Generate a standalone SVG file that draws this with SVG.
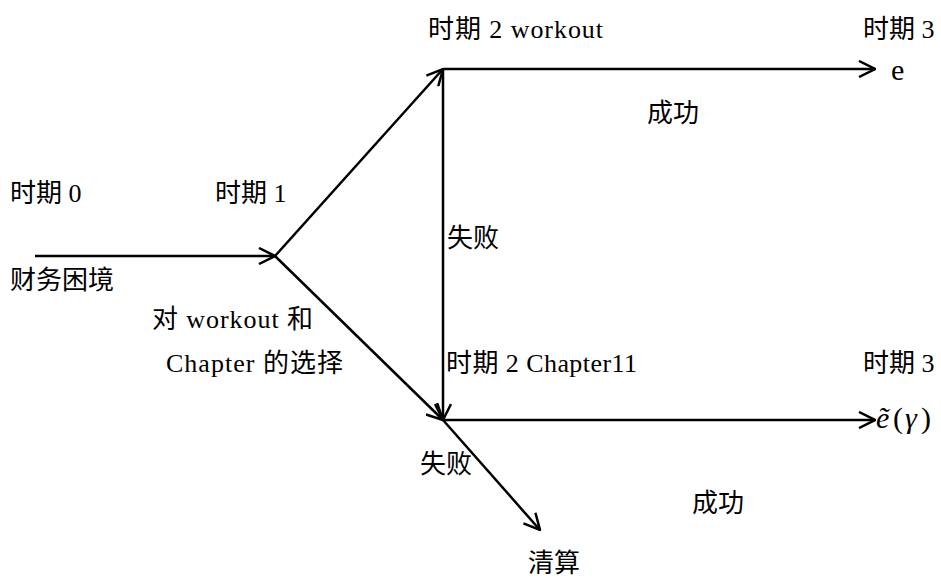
<svg xmlns="http://www.w3.org/2000/svg" width="941" height="580" viewBox="0 0 941 580">
<style>
text{font-family:"Liberation Serif","Noto Sans CJK SC",serif;font-size:26px;fill:#000}
.c line{stroke:#000;stroke-width:2.5;fill:none;marker-end:url(#a)}
.m{font-style:italic;font-size:30px}
.p{font-size:30px}
</style>
<defs>
<marker id="a" viewBox="0 0 18 18" refX="17" refY="9" markerWidth="18" markerHeight="18" markerUnits="userSpaceOnUse" orient="auto">
<path d="M1,1 L17,9 L1,17" fill="none" stroke="#000" stroke-width="2.5"/>
</marker>
</defs>
<rect width="941" height="580" fill="#fff"/>
<g class="c" id="connectors">
<line x1="35" y1="256" x2="275" y2="256"/>
<line x1="275" y1="256" x2="443" y2="69"/>
<line x1="275" y1="256" x2="443" y2="420"/>
<line x1="443" y1="69" x2="875" y2="69"/>
<line x1="443" y1="69" x2="443" y2="420"/>
<line x1="443" y1="420" x2="875" y2="420"/>
<line x1="443" y1="420" x2="540" y2="530"/>
</g>
<g id="t0"><text x="10" y="202">时期 0</text><text x="10" y="289">财务困境</text></g>
<g id="t1"><text x="215" y="202">时期 1</text><text x="152" y="328" textLength="161" lengthAdjust="spacing">对 workout 和</text><text x="166" y="372" textLength="177" lengthAdjust="spacing">Chapter 的选择</text></g>
<g id="t2w"><text x="428" y="38" textLength="175" lengthAdjust="spacing">时期 2 workout</text></g>
<g id="t3a"><text x="863" y="38">时期 3</text><text x="891" y="80" class="p">e</text></g>
<g id="s1"><text x="647" y="122">成功</text></g>
<g id="f1"><text x="447" y="247">失败</text></g>
<g id="t2c"><text x="446" y="372" textLength="191" lengthAdjust="spacing">时期 2 Chapter11</text></g>
<g id="t3b"><text x="863" y="372">时期 3</text>
<text x="876" y="428" class="m">ẽ</text><text x="893" y="428" class="p">(</text><text x="905" y="428" class="m">γ</text><text x="921" y="428" class="p">)</text></g>
<g id="f2"><text x="420" y="473">失败</text></g>
<g id="s2"><text x="692" y="512">成功</text></g>
<g id="liq"><text x="528" y="572">清算</text></g>
</svg>
